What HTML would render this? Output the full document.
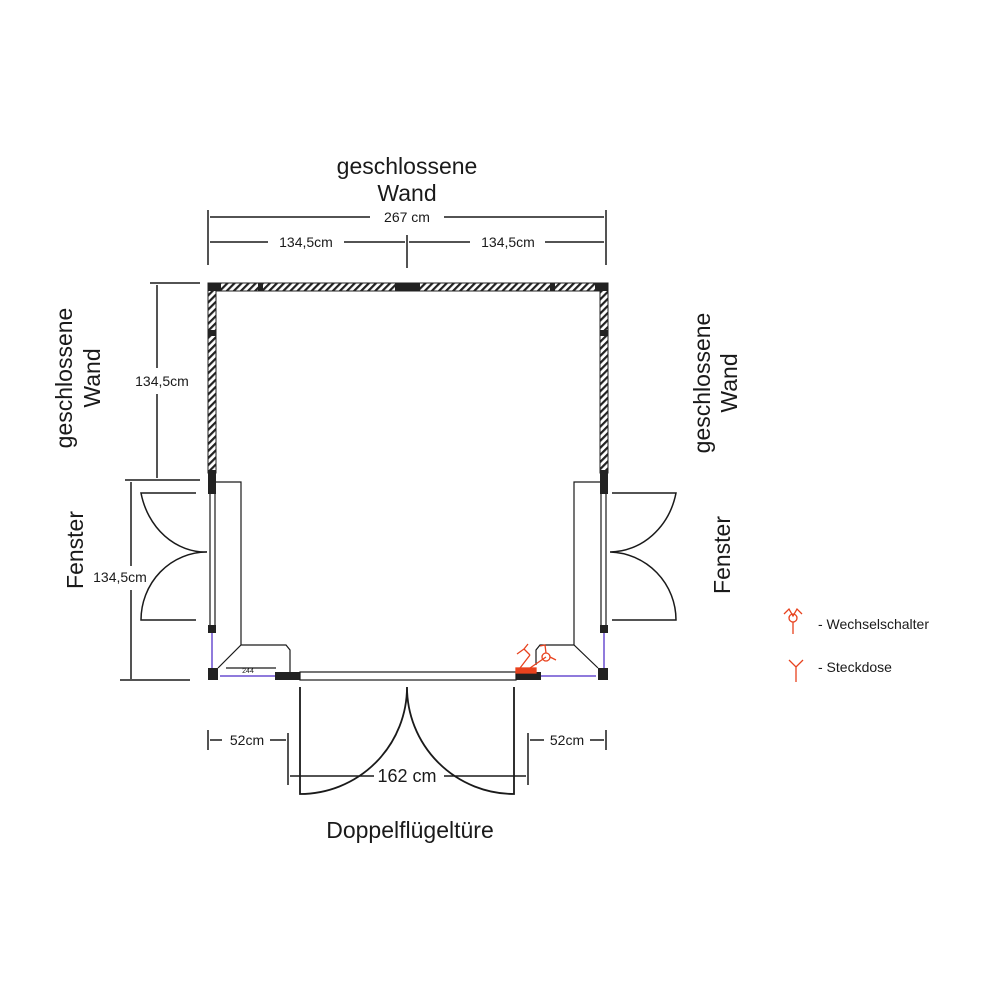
<!DOCTYPE html>
<html><head><meta charset="utf-8"><style>
html,body{margin:0;padding:0;background:#fff;width:1000px;height:1000px;overflow:hidden}
svg{display:block}
text{font-family:"Liberation Sans",Arial,sans-serif;fill:#1a1a1a}
</style></head><body>
<svg width="1000" height="1000" viewBox="0 0 1000 1000" xmlns="http://www.w3.org/2000/svg">
<defs>
<pattern id="h" width="5" height="5" patternUnits="userSpaceOnUse" patternTransform="rotate(45)">
<rect width="5" height="5" fill="#fff"/><rect width="2.2" height="5" fill="#222"/>
</pattern>
</defs>
<text x="407" y="174" font-size="23" text-anchor="middle">geschlossene</text>
<text x="407" y="201" font-size="23" text-anchor="middle">Wand</text>
<g stroke="#1a1a1a" stroke-width="1.5" fill="none">
<line x1="208" y1="210" x2="208" y2="265"/><line x1="606" y1="210" x2="606" y2="265"/><line x1="407" y1="235" x2="407" y2="268"/>
<line x1="210" y1="217" x2="370" y2="217"/><line x1="444" y1="217" x2="604" y2="217"/>
<line x1="210" y1="242" x2="268" y2="242"/><line x1="344" y1="242" x2="405" y2="242"/>
<line x1="409" y1="242" x2="470" y2="242"/><line x1="545" y1="242" x2="604" y2="242"/>
</g>
<text x="407" y="222" font-size="14" text-anchor="middle">267 cm</text>
<text x="306" y="247" font-size="14" text-anchor="middle">134,5cm</text>
<text x="508" y="247" font-size="14" text-anchor="middle">134,5cm</text>

<g stroke="#1a1a1a" stroke-width="1.5" fill="none">
<line x1="150" y1="283" x2="200" y2="283"/><line x1="157" y1="285" x2="157" y2="368"/><line x1="157" y1="394" x2="157" y2="478"/>
<line x1="125" y1="480" x2="200" y2="480"/><line x1="131" y1="482" x2="131" y2="566"/><line x1="131" y1="590" x2="131" y2="679"/>
<line x1="120" y1="680" x2="190" y2="680"/>
</g>
<text x="162" y="386" font-size="14" text-anchor="middle">134,5cm</text>
<text x="120" y="582" font-size="14" text-anchor="middle">134,5cm</text>
<text transform="translate(72,378) rotate(-90)" font-size="23" text-anchor="middle">geschlossene</text>
<text transform="translate(100,378) rotate(-90)" font-size="23" text-anchor="middle">Wand</text>
<text transform="translate(83,550) rotate(-90)" font-size="23" text-anchor="middle">Fenster</text>
<text transform="translate(710,383) rotate(-90)" font-size="23" text-anchor="middle">geschlossene</text>
<text transform="translate(737,383) rotate(-90)" font-size="23" text-anchor="middle">Wand</text>
<text transform="translate(730,555) rotate(-90)" font-size="23" text-anchor="middle">Fenster</text>

<rect x="208" y="283" width="400" height="8" fill="url(#h)" stroke="#222" stroke-width="1"/>
<rect x="208" y="283" width="8" height="190" fill="url(#h)" stroke="#222" stroke-width="1"/>
<rect x="600" y="283" width="8" height="190" fill="url(#h)" stroke="#222" stroke-width="1"/>
<g fill="#222">
<rect x="208" y="283" width="13" height="8"/><rect x="395" y="283" width="25" height="8"/><rect x="258" y="283" width="5" height="8"/><rect x="550" y="283" width="5" height="8"/><rect x="595" y="283" width="13" height="8"/>
<rect x="208" y="330" width="8" height="6"/><rect x="600" y="330" width="8" height="6"/>
<rect x="208" y="470" width="8" height="24"/><rect x="600" y="470" width="8" height="24"/>
<rect x="208" y="625" width="8" height="8"/><rect x="600" y="625" width="8" height="8"/>
<rect x="208" y="668" width="10" height="12"/><rect x="598" y="668" width="10" height="12"/>
<rect x="275" y="672" width="25" height="8"/><rect x="516" y="672" width="25" height="8"/>
</g>
<g stroke="#1a1a1a" stroke-width="1.2" fill="none">
<line x1="210" y1="494" x2="210" y2="625"/><line x1="215" y1="494" x2="215" y2="625"/>
<line x1="601" y1="494" x2="601" y2="625"/><line x1="606" y1="494" x2="606" y2="625"/>
<rect x="300" y="672" width="216" height="8"/>
<polyline points="216,482 241,482 241,645"/>
<polyline points="600,482 574,482 574,645"/>
<polyline points="218,668 241,645 286,645 290,650 290,672"/>
<polyline points="598,668 574,645 540,645 536,650 536,665"/>
<line x1="226" y1="668" x2="276" y2="668"/>
</g>
<g stroke="#1a1a1a" stroke-width="1.5" fill="none">
<path d="M196,493 L141,493 A66,75 0 0 0 207,552 M196,620 L141,620 A66,68 0 0 1 207,552"/>
<path d="M612,493 L676,493 A68,75 0 0 1 610,552 M612,620 L676,620 A68,68 0 0 0 610,552"/>
<path d="M300,687 L300,794 A107,107 0 0 0 407,687 A107,107 0 0 0 514,794 L514,687" stroke-width="1.8"/>
<line x1="288" y1="733" x2="288" y2="785"/><line x1="528" y1="733" x2="528" y2="785"/>
<line x1="290" y1="776" x2="374" y2="776"/><line x1="444" y1="776" x2="526" y2="776"/>
<line x1="208" y1="730" x2="208" y2="750"/><line x1="210" y1="740" x2="222" y2="740"/><line x1="270" y1="740" x2="286" y2="740"/>
<line x1="606" y1="730" x2="606" y2="750"/><line x1="530" y1="740" x2="544" y2="740"/><line x1="590" y1="740" x2="604" y2="740"/>
</g>
<g stroke="#6a4fd0" stroke-width="1.5">
<line x1="212" y1="633" x2="212" y2="668"/><line x1="220" y1="676" x2="275" y2="676"/>
<line x1="604" y1="633" x2="604" y2="668"/><line x1="541" y1="676" x2="596" y2="676"/>
</g>
<text x="248" y="673" font-size="7" text-anchor="middle">244</text>
<text x="407" y="782" font-size="18" text-anchor="middle">162 cm</text>
<text x="247" y="745" font-size="14" text-anchor="middle">52cm</text>
<text x="567" y="745" font-size="14" text-anchor="middle">52cm</text>
<text x="410" y="838" font-size="23" text-anchor="middle">Doppelflügeltüre</text>

<g stroke="#e8421e" stroke-width="1.3" fill="none">
<rect x="516" y="668" width="20" height="5" fill="#e8421e"/>
<path d="M520,668 L530,655 M530,655 L524,649 M524,649 L517,654 M524,649 L528,644"/>
<circle cx="546" cy="657" r="4"/><path d="M530,668 L546,657 M546,653 L545,645 L540,646 M550,657 L556,660"/>
<circle cx="793" cy="618" r="4"/><path d="M793,622 L793,634 M784,614 L789,609 L793,616 L797,609 L802,614"/>
<path d="M796,667 L796,682 M789,660 L796,667 L803,660"/>
</g>
<text x="818" y="629" font-size="14">- Wechselschalter</text>
<text x="818" y="672" font-size="14">- Steckdose</text>
</svg>
</body></html>
